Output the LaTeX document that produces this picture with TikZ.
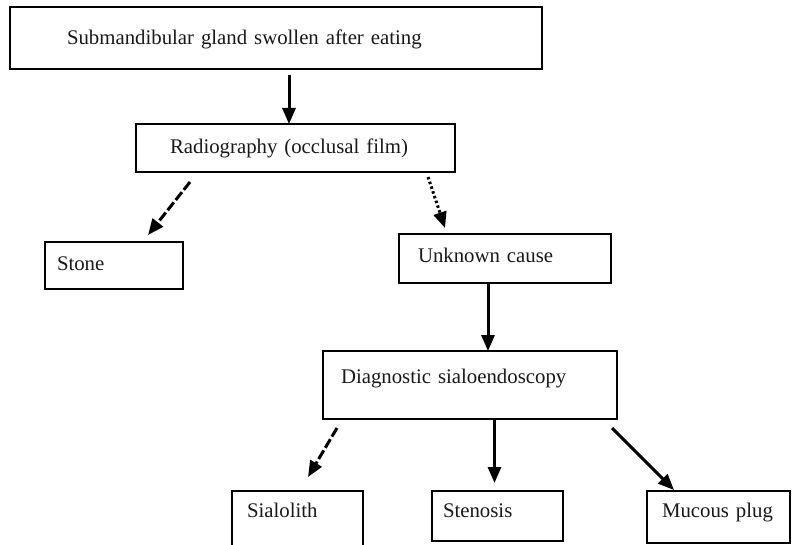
\documentclass[tikz,border=0pt]{standalone}
\usepackage{fontspec}
\setmainfont{Liberation Serif}
\usetikzlibrary{positioning}
\usetikzlibrary{arrows.meta}

\begin{document}
\begin{tikzpicture}[
            x = 1pt, y = -1pt, % one unit per pixel, downwards
            > = {Triangle[length=16pt, width=13pt]}, % arrow head style
            font = \fontsize{20.8}{25}\selectfont
        ]

        \tikzset{
            box/.style = {draw, line width = 2.8pt, anchor = north west, outer sep = 0pt,
                align = left, inner ysep = 0pt, text height = 14pt, text = black!90},
            link/.style = {->, line width = 3pt},
            dashlink/.style = {link, dash pattern = on 10pt off 3pt},
            dotlink/.style = {link, dash pattern = on 2.5pt off 2.5pt}
        }

        \clip (0,0) rectangle (792,545);
        \fill[white] (0,0) rectangle (792,545);

	% FIRST VISIT
        \node[box] (swollen) at (10,7) [minimum height = 62pt, inner xsep = 57pt, text width = 418pt, text depth = 0pt] {Submandibular gland swollen after eating};
        \node[box] (radio) at (136,124) [minimum height = 48pt, inner xsep = 34pt, text width = 251pt, text depth = 2pt] {Radiography (occlusal film)};

        \draw[link, shorten <= 6pt] ([xshift=-6.5pt]radio.north |- swollen.south) -- ([xshift=-6.5pt]radio.north);

	% RESULT OF THE FILM
        \node[box] (stone) at (45,242) [minimum height = 47pt, inner xsep = 12pt, text width = 114pt, text depth = 5pt] {Stone};
        \node[box] (cause) at (399,234) [minimum height = 49pt, inner xsep = 19pt, text width = 174pt, text depth = 5pt] {Unknown cause};

        \draw[dashlink] ([xshift=54pt, yshift=-10pt]radio.south west) -- ([xshift=103pt, yshift=7pt]stone.north west);
        \draw[dotlink] ([xshift=-27pt, yshift=-5pt]radio.south east) -- ([xshift=46pt, yshift=6pt]cause.north west);

	% SIALOENDOSCOPY
        \node[box] (diag) at (323,351) [minimum height = 68pt, inner xsep = 18pt, text width = 258pt, text depth = 18pt] {Diagnostic sialoendoscopy};

        \draw[link] ([xshift=18pt]diag.north |- cause.south) -- ([xshift=18pt]diag.north);

	% FINDINGS
        \node[box] (sial) at (232,491) [minimum height = 57pt, inner xsep = 15pt, text width = 101pt, text depth = 19pt] {Sialolith};
        \node[box] (sten) at (432,491) [minimum height = 50pt, inner xsep = 11pt, text width = 109pt, text depth = 12pt] {Stenosis};
        \node[box] (plug) at (647,491) [minimum height = 52pt, inner xsep = 15pt, text width = 113pt, text depth = 14pt] {Mucous plug};

        \draw[dashlink] ([xshift=14pt, yshift=-9pt]diag.south west) -- ([xshift=76pt, yshift=14pt]sial.north west);
        \draw[link] ([xshift=-3pt]sten.north |- diag.south) -- ([xshift=-3pt, yshift=8pt]sten.north);
        \draw[link] ([xshift=-5pt, yshift=-9pt]diag.south east) -- ([xshift=27pt, yshift=1pt]plug.north west);

  \end{tikzpicture}
\end{document}
